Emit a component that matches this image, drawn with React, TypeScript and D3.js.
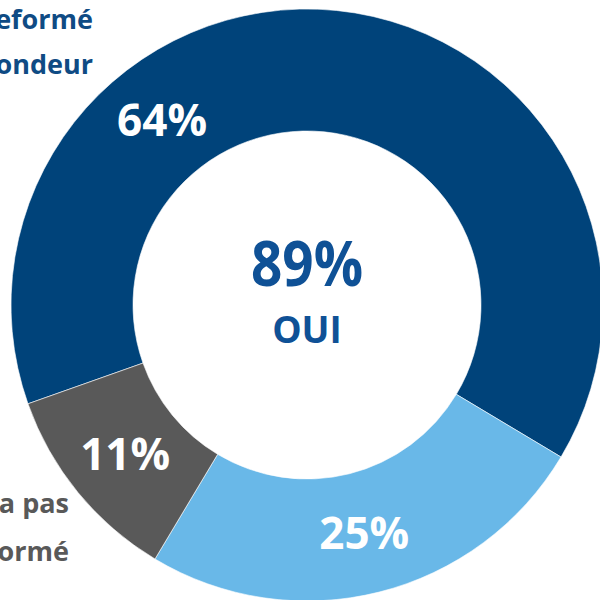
import React from "react";
import * as d3 from "d3";

const categories = ["Informé par le répondeur", "Informé autrement", "N'a pas été informé"];
const values = [64, 25, 11];
const sliceLabels = ["64%", "25%", "11%"];
const colors = ["#00437A", "#69B8E8", "#595959"];
const centerValue = "89%";
const centerLabel = "OUI";
const topLabelLines = ["A été reformé", "par le répondeur"];
const bottomLabelLines = ["N'a pas", "été informé"];

const W = 600;
const H = 600;
const cx = 307;
const cy = 305;
const outerR = 296;
const innerR = 174;
const startDeg = -109.5;
const font = "'Open Sans', sans-serif";

export default function App() {
  const pie = d3
    .pie<number>()
    .sort(null)
    .startAngle((startDeg * Math.PI) / 180)
    .endAngle((startDeg * Math.PI) / 180 + 2 * Math.PI);
  const arcs = pie(values);
  const arc = d3.arc<d3.PieArcDatum<number>>().innerRadius(innerR).outerRadius(outerR);
  const midR = (innerR + outerR) / 2;

  const labelPos = (d: d3.PieArcDatum<number>, i: number) => {
    // first slice label is shifted towards its start (upper-left), as in the original
    const a = i === 0 ? d.startAngle + (d.endAngle - d.startAngle) * 0.31 : (d.startAngle + d.endAngle) / 2;
    return [Math.sin(a) * midR, -Math.cos(a) * midR];
  };

  return (
    <svg
      width={W}
      height={H}
      style={{ position: "absolute", left: 0, top: 0, background: "#fff" }}
      viewBox={`0 0 ${W} ${H}`}
    >
      <g transform={`translate(${cx},${cy})`}>
        {arcs.map((d, i) => (
          <path key={categories[i]} d={arc(d) || ""} fill={colors[i]} stroke="#fff" strokeWidth={0.6} />
        ))}
        {arcs.map((d, i) => {
          const [x, y] = labelPos(d, i);
          return (
            <text
              key={"l" + i}
              x={x}
              y={y}
              dy="0.36em"
              textAnchor="middle"
              fill="#fff"
              fontFamily={font}
              fontWeight={700}
              fontSize={44}
            >
              {sliceLabels[i]}
            </text>
          );
        })}
        <text
          x={0}
          y={-19}
          textAnchor="middle"
          fill="#0F5196"
          fontFamily={font}
          fontWeight={700}
          fontSize={62}
          textLength={112}
          lengthAdjust="spacingAndGlyphs"
        >
          {centerValue}
        </text>
        <text
          x={0}
          y={38}
          textAnchor="middle"
          fill="#0F5196"
          fontFamily={font}
          fontWeight={700}
          fontSize={37}
        >
          {centerLabel}
        </text>
      </g>
      {topLabelLines.map((t, i) => (
        <text
          key={"t" + i}
          x={93}
          y={29 + i * 45}
          textAnchor="end"
          fill="#0F4B84"
          fontFamily={font}
          fontWeight={700}
          fontSize={27}
        >
          {t}
        </text>
      ))}
      {bottomLabelLines.map((t, i) => (
        <text
          key={"b" + i}
          x={69}
          y={513 + i * 48}
          textAnchor="end"
          fill="#595959"
          fontFamily={font}
          fontWeight={700}
          fontSize={27}
        >
          {t}
        </text>
      ))}
    </svg>
  );
}
